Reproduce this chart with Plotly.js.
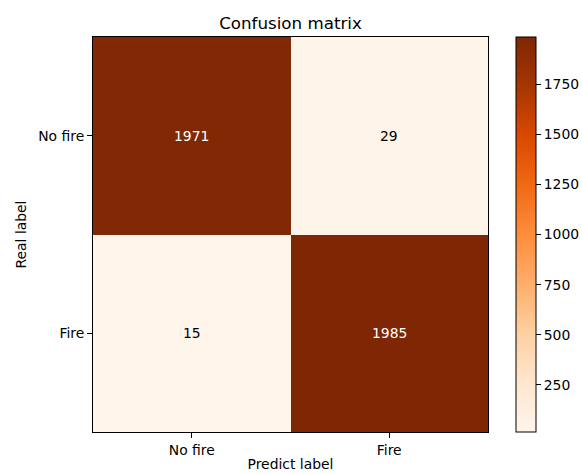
<!DOCTYPE html>
<html>
<head>
<meta charset="utf-8">
<script src="https://cdn.plot.ly/plotly-3.0.1.min.js"></script>
<style>html,body{margin:0;padding:0;background:#fff}#chart{width:582px;height:474px}</style>
</head>
<body>
<div id="chart"></div>
<script>
const predictLabels = ["No fire", "Fire"];
const realLabels = ["No fire", "Fire"];
const counts = [[1971, 29], [15, 1985]];
const colorbarTicks = [250, 500, 750, 1000, 1250, 1500, 1750];

const oranges = [
  [0.0, "#fff5eb"], [0.125, "#fee6ce"], [0.25, "#fdd0a2"], [0.375, "#fdae6b"],
  [0.5, "#fd8d3c"], [0.625, "#f16913"], [0.75, "#d94801"], [0.875, "#a63603"], [1.0, "#7f2704"]
];

const flat = counts.flat();
const zmin = Math.min(...flat), zmax = Math.max(...flat);
const thresh = (zmin + zmax) / 2;

const annotations = [];
realLabels.forEach((r, i) => {
  predictLabels.forEach((p, j) => {
    annotations.push({
      x: p, y: r, xref: "x", yref: "y", text: String(counts[i][j]), showarrow: false,
      font: {family: "DejaVu Sans", size: 13.9, color: counts[i][j] > thresh ? "#ffffff" : "#000000"}
    });
  });
});

const font = {family: "DejaVu Sans", size: 13.9, color: "#000"};

Plotly.newPlot("chart", [{
  type: "heatmap",
  x: predictLabels, y: realLabels, z: counts,
  colorscale: oranges, zmin: zmin, zmax: zmax,
  hoverinfo: "none",
  colorbar: {
    x: (516 - 93) / 395, xanchor: "left", xpad: 0, ypad: 0,
    y: 0.5, yanchor: "middle", len: 1, lenmode: "fraction",
    thickness: 20, thicknessmode: "pixels",
    outlinewidth: 1, outlinecolor: "#000",
    tickvals: colorbarTicks, ticktext: colorbarTicks.map(String),
    ticks: "outside", ticklen: 5, tickwidth: 1, tickcolor: "#000",
    tickfont: font
  }
}], {
  width: 582, height: 474,
  margin: {l: 93, r: 94, t: 37, b: 42, pad: 0, autoexpand: false},
  paper_bgcolor: "#fff", plot_bgcolor: "#fff",
  font: font,
  title: {text: "Confusion matrix", font: {family: "DejaVu Sans", size: 16.7, color: "#000"}, x: 0.5, xref: "paper", y: 1, yref: "paper", yanchor: "bottom", pad: {b: 8}},
  xaxis: {
    type: "category", showgrid: false, zeroline: false, automargin: false,
    ticks: "outside", ticklen: 5, tickwidth: 1, tickcolor: "#000",
    showline: true, linecolor: "#000", linewidth: 1, mirror: true,
    tickfont: font,
    title: {text: "Predict label", font: font, standoff: 2}
  },
  yaxis: {
    type: "category", autorange: "reversed", showgrid: false, zeroline: false, automargin: false,
    ticks: "outside", ticklen: 5, tickwidth: 1, tickcolor: "#000",
    showline: true, linecolor: "#000", linewidth: 1, mirror: true,
    tickfont: font,
    title: {text: "Real label", font: font, standoff: 8}
  },
  annotations: annotations
}, {displayModeBar: false, staticPlot: true});
</script>
</body>
</html>
